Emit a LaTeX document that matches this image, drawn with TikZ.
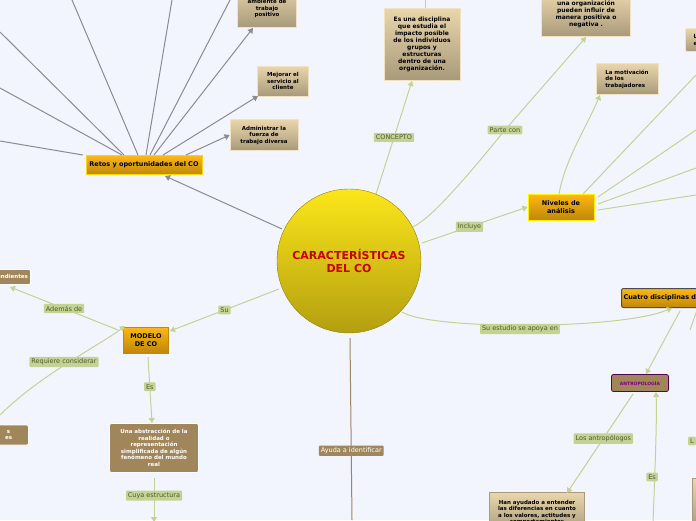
\documentclass[tikz,border=0pt]{standalone}
\usepackage{fontspec}
\setmainfont{DejaVu Sans}
\usetikzlibrary{arrows.meta}
\definecolor{bg}{HTML}{F2F5FD}
\definecolor{gl}{HTML}{C3D393}
\definecolor{glt}{HTML}{4E5A2C}
\definecolor{gry}{HTML}{8A8C94}
\definecolor{tanT}{HTML}{EAD6AC}
\definecolor{tanB}{HTML}{A89A7A}
\definecolor{dtan}{HTML}{A0865A}
\definecolor{orT}{HTML}{FDB813}
\definecolor{orB}{HTML}{C08708}
\definecolor{yT}{HTML}{FBE71A}
\definecolor{yB}{HTML}{B49E10}
\begin{document}
\begin{tikzpicture}[x=1pt,y=-1pt,
 lbl/.style={fill=gl,rounded corners=1pt,font=\fontsize{6.5}{7}\selectfont,text=glt,inner sep=2pt},
 dlbl/.style={fill=dtan,rounded corners=1pt,font=\fontsize{6.5}{7}\selectfont,text=white,inner sep=2pt},
 tbox/.style={draw=tanT!70!white,line width=0.8pt,top color=tanT,bottom color=tanB,font=\bfseries\fontsize{5.5}{6.5}\selectfont,align=center,inner sep=2pt},
 dbox/.style={draw=white,line width=0.8pt,fill=dtan,rounded corners=2pt,font=\bfseries\fontsize{5.5}{6.5}\selectfont,text=white,align=center,inner sep=2pt},
 obox/.style={top color=orT,bottom color=orB,font=\bfseries\fontsize{6.5}{7.5}\selectfont,align=center,inner sep=2pt},
 gline/.style={draw=gl,line width=1pt},
 garr/.style={gline,-{Triangle[length=5pt,width=6pt]}},
 grl/.style={draw=gry,line width=1pt},
 grarr/.style={grl,-{Triangle[length=5pt,width=6pt]}}]
\useasboundingbox (0,0) rectangle (696,520);
\fill[bg] (0,0) rectangle (696,520);
% center
\shade[top color=yT,bottom color=yB,draw=yB!80!black] (349,261) circle (72);
\node[font=\bfseries\fontsize{11}{13}\selectfont,text=red!80!black,align=center] (c) at (349,261) {CARACTERÍSTICAS\\DEL CO};
% Retos
\node[obox,draw=orT!60!yellow,minimum width=116,minimum height=19] (retos) at (144,165) {Retos y oportunidades del CO};
\draw[grarr] (282,229) -- (165,176);
\node[tbox,minimum width=59,minimum height=44,anchor=south] (crea) at (267,28) {Crea un\\ambiente de\\trabajo\\positivo};
\node[tbox,minimum width=51,minimum height=30] (mej) at (283,81) {Mejorar el\\servicio al\\cliente};
\node[tbox,minimum width=68,minimum height=31] (adm) at (264,135) {Administrar la\\fuerza de\\trabajo diversa};
\draw[grarr] (154,155) -- (253,28);
\draw[grarr] (163,155) -- (258,96);
\draw[grarr] (186,155) -- (adm.west);
\draw[grl] (138,155) -- (72,0);
\draw[grl] (146,155) -- (172,0);
\draw[grl] (150,155) -- (230,0);
\draw[grl] (124,155) -- (0,32);
\draw[grl] (122,155) -- (0,88);
\draw[grl] (83,155) -- (0,141);
% concept
\node[tbox,font=\bfseries\fontsize{6}{7}\selectfont,minimum width=76,minimum height=72] (con) at (422,44) {Es una disciplina\\que estudia el\\impacto posible\\de los individuos\\grupos y\\estructuras\\dentro de una\\organización.};
\draw[gline] (425,8) -- (425,0);
\draw[garr] (376,194) -- (412,81) node[lbl,pos=0.5] {CONCEPTO};
% parte con
\node[tbox,font=\bfseries\fontsize{6}{7}\selectfont,minimum width=89,minimum height=44,anchor=south] (org) at (586,37) {una organización\\pueden influir de\\manera positiva o\\negativa .};
\draw[garr] (413,227) .. controls (425,220) and (440,210) .. (505,130) -- (org.south);
\node[lbl] at (505,130) {Parte con};
% niveles
\node[obox,draw=yellow,line width=1pt,minimum width=66,minimum height=26] (niv) at (561,207) {Niveles de\\análisis};
\draw[garr] (422,243) -- (niv.west) node[lbl,pos=0.45] {Incluye};
\node[tbox,minimum width=62,minimum height=31,align=left] (mot) at (627,79) {La motivación\\de los\\trabajadores};
\draw[garr] (559,194) .. controls (565,160) and (585,130) .. (600,95);
\node[tbox,rounded corners=2pt,minimum width=20,minimum height=23,anchor=west,align=left] (lb) at (685,40) {L\\e};
\draw[gline] (583,194) -- (696,75);
\draw[gline] (598,197) -- (696,130);
\draw[gline] (598,204) -- (696,168);
\draw[gline] (598,210) -- (696,195);
% cuatro
\node[obox,draw=black!70,line width=1pt,rounded corners=2pt,minimum height=19,anchor=west] (cua) at (621,298) {Cuatro disciplinas de};
\draw[garr] (402,312) .. controls (430,330) and (620,330) .. (672,308);
\node[lbl] (sea) at (520,329) {Su estudio se apoya en};
\node[draw=violet!70!black,line width=0.8pt,fill=dtan,rounded corners=2pt,font=\bfseries\fontsize{4.5}{5}\selectfont,text=violet,minimum width=57,minimum height=17] (ant) at (640,383) {ANTROPOLOGÍA};
\draw[garr] (680,311) -- (646,374);
\draw[gline] (697,310) -- (690,330);
\node[tbox,draw=tanB,minimum width=95,minimum height=40,anchor=north] (han) at (537,492) {Han ayudado a entender\\las diferencias en cuanto\\a los valores, actitudes y\\comportamientos};
\draw[garr] (633,394) -- (567,493) node[lbl,pos=0.45] {Los antropólogos};
\draw[garr] (653,523) .. controls (655,470) and (657,420) .. (656,392);
\node[lbl] at (652,477) {Es};
\node[lbl,anchor=west] at (688,441) {L};
\node[tbox,draw=tanB,minimum width=20,minimum height=50,anchor=north west] at (692,478) {};
% modelo
\node[obox,draw=orB,minimum width=45,minimum height=26] (mod) at (146,340) {MODELO\\DE CO};
\draw[garr] (279,289) -- (170,331) node[lbl,pos=0.5] {Su};
\node[dbox,minimum width=40,minimum height=15,anchor=east] (pend) at (31,277) {pendientes};
\draw[garr] (118,330) -- (10,287) node[lbl,pos=0.5] {Además de};
\node[dbox,minimum width=40,minimum height=20,anchor=east] (rq) at (29,435) {s\\es};
\draw[garr] (0,415) .. controls (40,375) and (100,345) .. (125,326);
\node[lbl] at (64,362) {Requiere considerar};
\node[dbox,minimum width=89,minimum height=49] (abs) at (154,448) {Una abstracción de la\\realidad o\\representación\\simplificada de algún\\fenómeno del mundo\\real};
\draw[garr] (148,357) -- (152,423) node[lbl,pos=0.45] {Es};
\draw[garr] (154,478) -- (154,522) node[lbl,pos=0.4] {Cuya estructura};
% ayuda
\draw[draw=dtan,line width=1pt] (350,338) -- (352,520) node[dlbl,pos=0.62] {Ayuda a identificar};
\end{tikzpicture}
\end{document}
